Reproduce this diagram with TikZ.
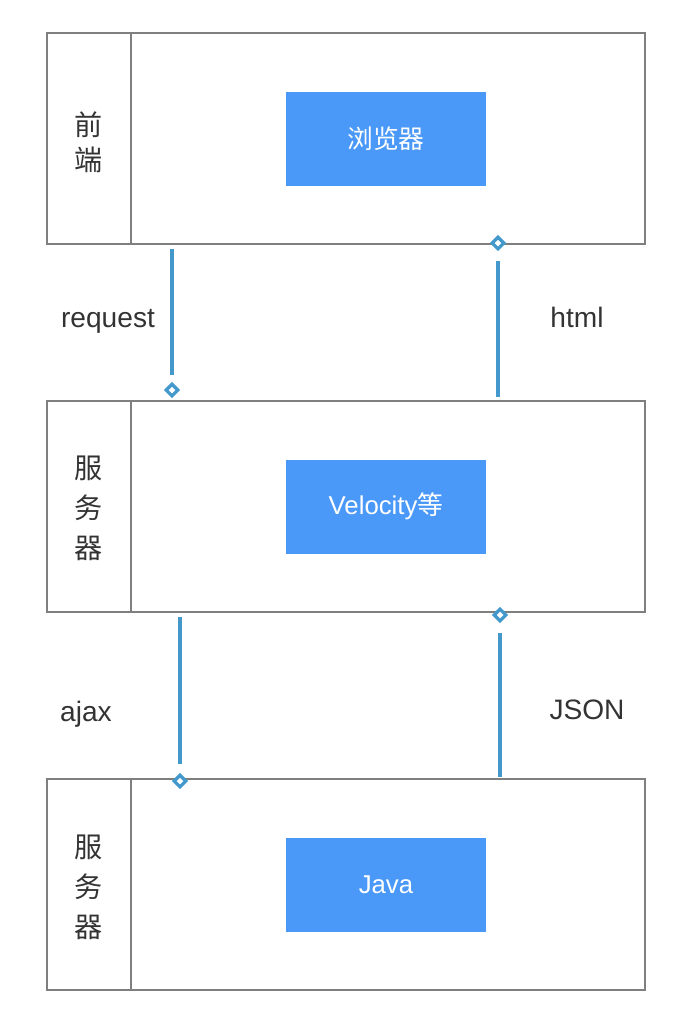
\documentclass[tikz,border=0pt]{standalone}
\usepackage{fontspec}
\setmainfont{Liberation Sans}
\newfontfamily\cjk{Noto Sans CJK SC}
\usetikzlibrary{shapes.geometric}
\definecolor{framegray}{HTML}{7F7F7F}
\definecolor{boxblue}{HTML}{4A98F7}
\definecolor{linkblue}{HTML}{4499CC}
\definecolor{textdark}{HTML}{333333}
\tikzset{
	panel/.style={draw=framegray,line width=1.7pt,minimum width=598*0.03cm,minimum height=211*0.03cm,inner sep=0pt},
	layer/.style={fill=boxblue,text=white,minimum width=200*0.03cm,minimum height=94*0.03cm,inner sep=0pt,font=\fontsize{22}{26}\selectfont},
	side/.style={text=textdark,align=center,font=\cjk\fontsize{24}{30}\selectfont},
	lbl/.style={text=textdark,font=\fontsize{24}{28}\selectfont},
	link/.style={draw=linkblue,line width=3.4pt},
	knob/.style={diamond,draw=linkblue,fill=white,line width=2.8pt,minimum width=13*0.03cm,minimum height=13*0.03cm,inner sep=0pt},
}
\begin{document}
\begin{tikzpicture}[x=0.03cm,y=-0.03cm]
	\useasboundingbox (0,0) rectangle (700,1026);
	\coordinate (div) at (131,0);
	\coordinate (reqx) at (172,0);
	\coordinate (htmlx) at (498,0);
	\coordinate (ajaxx) at (180,0);
	\coordinate (jsonx) at (500,0);
	% three layers
	\node[panel] (front) at (346,138.5) {};
	\node[panel] (web) at (346,506.5) {};
	\node[panel] (back) at (346,884.5) {};
	\draw[framegray,line width=1.7pt] (front.north -| div) -- (front.south -| div);
	\draw[framegray,line width=1.7pt] (web.north -| div) -- (web.south -| div);
	\draw[framegray,line width=1.7pt] (back.north -| div) -- (back.south -| div);
	\node[side] (frontname) at (89,142) {前\\端};
	\node[side,font=\cjk\fontsize{24}{34}\selectfont] (webname) at (89,508) {服\\务\\器};
	\node[side,font=\cjk\fontsize{24}{34}\selectfont] (backname) at (89,887) {服\\务\\器};
	\node[layer] (browser) at (386,139) {\cjk 浏览器};
	\node[layer] (velocity) at (386,506.5) {Velocity\cjk 等};
	\node[layer] (java) at (386,884.5) {Java};
	% links, with the open diamond at the far end
	\draw[link,shorten >=13pt] ([yshift=-3.4pt]front.south -| reqx) -- ([yshift=8.5pt]web.north -| reqx) node[knob] (reqend) {};
	\draw[link,shorten >=15pt] ([yshift=2.5pt]web.north -| htmlx) -- ([yshift=1.7pt]front.south -| htmlx) node[knob] (htmlend) {};
	\draw[link,shorten >=14.5pt] ([yshift=-3.4pt]web.south -| ajaxx) -- ([yshift=-2.6pt]back.north -| ajaxx) node[knob] (ajaxend) {};
	\draw[link,shorten >=15pt] ([yshift=0.8pt]back.north -| jsonx) -- ([yshift=-1.7pt]web.south -| jsonx) node[knob] (jsonend) {};
	\node[lbl] (request) at (108,321) {request};
	\node[lbl] (html) at (577,317) {html};
	\node[lbl] (ajax) at (86,714) {ajax};
	\node[lbl] (json) at (587,710) {JSON};
\end{tikzpicture}
\end{document}
